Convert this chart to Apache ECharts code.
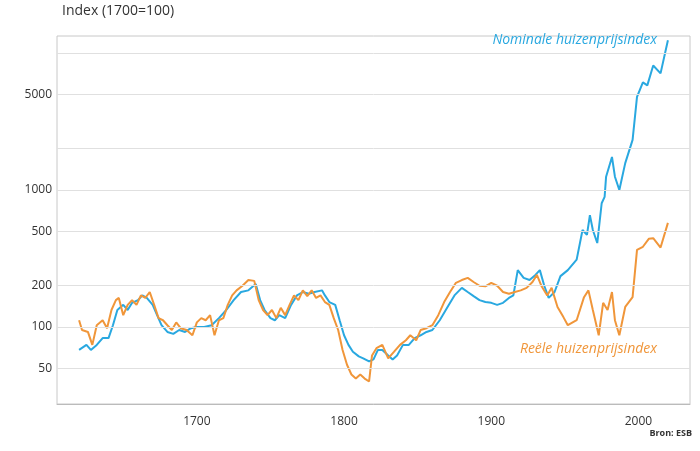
<!DOCTYPE html>
<html>
<head>
<meta charset="utf-8">
<script src="https://cdn.jsdelivr.net/npm/echarts@6/dist/echarts.min.js"></script>
<style>html,body{margin:0;padding:0;background:#fff}#main{width:700px;height:451px}</style>
</head>
<body>
<div id="main"></div>
<script>
window.onload = function () {
  var myChart = echarts.init(document.getElementById("main"));

  // Nominale huizenprijsindex (1700=100)
  const nominaal = [
    [1620, 68], [1625, 74], [1628, 68], [1632, 74], [1636, 83], [1640, 83], [1643, 103],
    [1646, 133], [1650, 145], [1653, 133], [1656, 150], [1660, 157], [1663, 170], [1666, 163],
    [1670, 145], [1673, 122], [1676, 103], [1680, 92], [1684, 89], [1688, 95], [1692, 92],
    [1696, 98], [1700, 100], [1705, 100], [1710, 103], [1715, 116], [1720, 133], [1725, 157],
    [1730, 180], [1735, 185], [1740, 206], [1743, 157], [1746, 133], [1750, 116], [1753, 112],
    [1756, 122], [1760, 116], [1764, 145], [1768, 170], [1772, 180], [1776, 175], [1780, 180],
    [1785, 185], [1787, 170], [1790, 152], [1794, 145], [1797, 112], [1800, 87], [1803, 74],
    [1806, 66], [1810, 61], [1813, 59], [1817, 56], [1820, 58], [1823, 68], [1826, 68],
    [1830, 62], [1833, 58], [1836, 62], [1840, 74], [1844, 74], [1848, 83], [1852, 87],
    [1856, 92], [1860, 95], [1865, 112], [1870, 138], [1875, 170], [1880, 193], [1884, 180],
    [1888, 168], [1892, 157], [1896, 152], [1900, 150], [1904, 145], [1908, 150], [1912, 163],
    [1915, 170], [1918, 260], [1922, 228], [1926, 220], [1930, 240], [1933, 260], [1936, 200],
    [1939, 163], [1943, 180], [1947, 235], [1952, 260], [1958, 310], [1962, 510], [1965, 470],
    [1967, 655], [1969, 510], [1972, 410], [1975, 800], [1977, 890], [1978, 1250], [1982, 1740],
    [1984, 1250], [1987, 1000], [1991, 1570], [1996, 2320], [1999, 4780], [2003, 6100],
    [2006, 5800], [2010, 8100], [2015, 7100], [2020, 12400]
  ];

  // Reële huizenprijsindex (1700=100)
  const reeel = [
    [1620, 112], [1622, 95], [1626, 92], [1629, 74], [1632, 103], [1636, 112], [1639, 98],
    [1642, 133], [1645, 157], [1647, 163], [1650, 122], [1653, 145], [1656, 157], [1659, 145],
    [1662, 170], [1665, 163], [1668, 180], [1671, 145], [1674, 116], [1677, 112], [1680, 103],
    [1683, 95], [1686, 108], [1689, 98], [1693, 95], [1697, 87], [1700, 108], [1703, 116],
    [1706, 112], [1709, 122], [1712, 87], [1715, 112], [1718, 116], [1721, 145], [1724, 170],
    [1727, 185], [1731, 200], [1735, 220], [1739, 217], [1742, 157], [1745, 133], [1748, 122],
    [1751, 133], [1754, 116], [1757, 138], [1760, 122], [1763, 145], [1766, 170], [1769, 157],
    [1772, 185], [1775, 168], [1778, 185], [1781, 163], [1784, 170], [1787, 152], [1790, 145],
    [1793, 116], [1796, 95], [1799, 68], [1802, 53], [1805, 45], [1808, 42], [1811, 45],
    [1814, 42], [1817, 40], [1819, 62], [1822, 70], [1826, 74], [1830, 59], [1834, 66],
    [1838, 74], [1842, 80], [1845, 87], [1849, 80], [1852, 95], [1856, 98], [1860, 103],
    [1864, 122], [1868, 152], [1872, 180], [1876, 210], [1880, 220], [1884, 228], [1888, 213],
    [1892, 200], [1896, 198], [1900, 210], [1904, 200], [1908, 180], [1912, 175], [1916, 180],
    [1920, 185], [1924, 193], [1928, 213], [1931, 240], [1934, 200], [1938, 170], [1941, 193],
    [1945, 140], [1949, 118], [1952, 103], [1958, 112], [1963, 165], [1966, 185], [1969, 133],
    [1973, 87], [1976, 150], [1979, 133], [1982, 180], [1984, 112], [1987, 87], [1991, 140],
    [1996, 165], [1999, 365], [2003, 385], [2007, 440], [2010, 445], [2015, 380], [2020, 575]
  ];

  const gridValues = [50, 100, 200, 500, 1000, 2000, 5000, 10000];
  const labelled = [50, 100, 200, 500, 1000, 5000];

  const option = {
    animation: false,
    grid: { left: 57, right: 10, top: 36, bottom: 47, show: true, borderColor: "#c8c8c8", borderWidth: 1 },
    xAxis: {
      type: "value",
      min: 1605,
      max: 2035,
      interval: 5,
      axisLine: { lineStyle: { color: "#bbb" } },
      axisTick: { show: false },
      splitLine: { show: false },
      axisLabel: {
        color: "#333",
        fontSize: 12,
        fontFamily: "Open Sans",
        margin: 12,
        formatter: (v) => (v % 100 === 0 ? v : ""),
      },
    },
    yAxis: {
      type: "log",
      min: 27.4,
      max: 13300,
      axisLine: { show: false },
      axisTick: { show: false },
      axisLabel: { show: false },
      splitLine: { show: false },
    },
    graphic: [
      { type: "text", left: 62, top: 4, style: { text: "Index (1700=100)", fontSize: 14, fill: "#333", fontFamily: "Open Sans" } },
      { type: "text", right: 43, top: 33, style: { text: "Nominale huizenprijsindex", fontSize: 14, fontStyle: "italic", fill: "#29a8e0", fontFamily: "Open Sans" } },
      { type: "text", right: 43, top: 342, style: { text: "Reële huizenprijsindex", fontSize: 14, fontStyle: "italic", fill: "#f0963a", fontFamily: "Open Sans" } },
      { type: "text", right: 8, top: 429, style: { text: "Bron: ESB", fontSize: 9, fontWeight: "bold", fill: "#333", fontFamily: "Open Sans" } },
    ],
    series: [
      {
        name: "Nominale huizenprijsindex",
        type: "line",
        data: nominaal,
        showSymbol: false,
        lineStyle: { color: "#29a8e0", width: 2 },
        z: 2,
        markLine: {
          silent: true,
          symbol: "none",
          lineStyle: { color: "#e0e0e0", type: "solid", width: 1 },
          label: {
            position: "start",
            color: "#333",
            fontSize: 12,
            fontFamily: "Open Sans",
            formatter: (p) => (labelled.includes(p.value) ? String(p.value) : ""),
          },
          data: gridValues.map((v) => ({ yAxis: v })),
        },
      },
      {
        name: "Reële huizenprijsindex",
        type: "line",
        data: reeel,
        showSymbol: false,
        lineStyle: { color: "#f0963a", width: 2 },
        z: 3,
      },
    ],
  };

  myChart.setOption(option);
};
</script>
</body>
</html>
